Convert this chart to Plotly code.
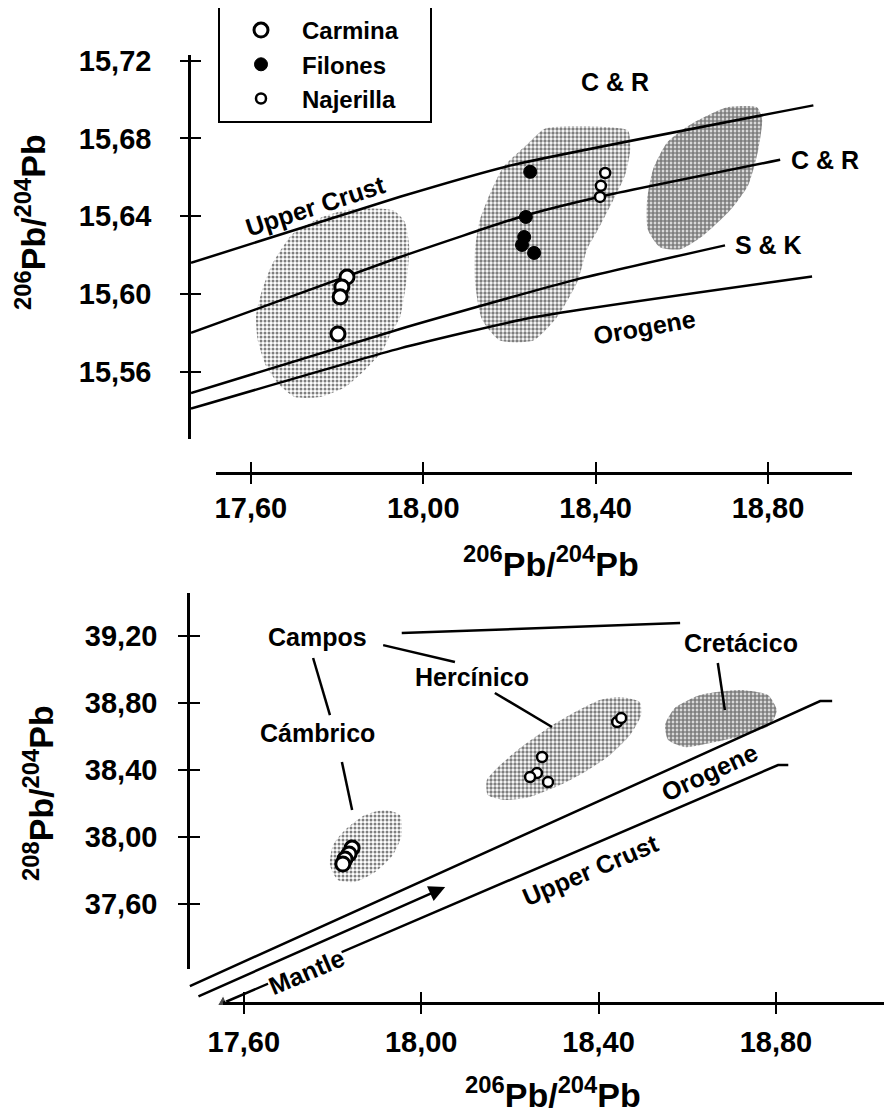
import plotly.graph_objects as go

# page has an 8px body margin; figure is sized so that page coordinates match the 892x1117 window
OFF = 8
W, H = 892 - OFF, 1117 - OFF

# ---------------- Top panel data ----------------
top_x_ticks = [17.60, 18.00, 18.40, 18.80]
top_x_labels = ["17,60", "18,00", "18,40", "18,80"]
top_y_ticks = [15.56, 15.60, 15.64, 15.68, 15.72]
top_y_labels = ["15,56", "15,60", "15,64", "15,68", "15,72"]

carmina_x = [17.823, 17.811, 17.807, 17.802]
carmina_y = [15.6087, 15.6036, 15.5985, 15.5794]
filones_x = [18.248, 18.238, 18.234, 18.229, 18.257]
filones_y = [15.6628, 15.6396, 15.6293, 15.6252, 15.6211]
najerilla_x = [18.422, 18.412, 18.410]
najerilla_y = [15.6622, 15.6556, 15.6499]

upper_crust_x = [17.461, 17.946, 18.201, 18.905]
upper_crust_y = [15.616, 15.650, 15.666, 15.697]
cr_x = [17.461, 17.946, 18.231, 18.410, 18.828]
cr_y = [15.580, 15.619, 15.640, 15.650, 15.669]
sk_x = [17.461, 17.946, 18.347, 18.700]
sk_y = [15.549, 15.582, 15.607, 15.625]
orogene_x = [17.461, 17.946, 18.255, 18.902]
orogene_y = [15.541, 15.572, 15.588, 15.609]

blobA_x = [17.869, 17.930, 17.957, 17.967, 17.964, 17.946, 17.923, 17.906, 17.865, 17.818, 17.760,
           17.702, 17.667, 17.635, 17.616, 17.612, 17.626, 17.651, 17.697, 17.760, 17.818]
blobA_y = [15.644, 15.643, 15.637, 15.625, 15.612, 15.588, 15.579, 15.571, 15.561, 15.552, 15.547,
           15.547, 15.553, 15.563, 15.576, 15.589, 15.602, 15.616, 15.631, 15.639, 15.643]
blobB_x = [18.282, 18.410, 18.475, 18.480, 18.468, 18.440, 18.405, 18.380, 18.357, 18.310, 18.255,
           18.178, 18.136, 18.120, 18.120, 18.131, 18.148, 18.185, 18.241]
blobB_y = [15.685, 15.686, 15.684, 15.674, 15.661, 15.648, 15.633, 15.623, 15.606, 15.588, 15.576,
           15.576, 15.587, 15.606, 15.623, 15.638, 15.648, 15.665, 15.677]
blobC_x = [18.619, 18.705, 18.774, 18.786, 18.777, 18.754, 18.712, 18.649, 18.596, 18.549, 18.521,
           18.519, 18.533, 18.566]
blobC_y = [15.687, 15.696, 15.696, 15.690, 15.674, 15.656, 15.643, 15.630, 15.623, 15.624, 15.633,
           15.648, 15.664, 15.678]

# ---------------- Bottom panel data ----------------
bot_x_ticks = [17.60, 18.00, 18.40, 18.80]
bot_x_labels = ["17,60", "18,00", "18,40", "18,80"]
bot_y_ticks = [37.60, 38.00, 38.40, 38.80, 39.20]
bot_y_labels = ["37,60", "38,00", "38,40", "38,80", "39,20"]

camb_pts_x = [17.844, 17.837, 17.828, 17.823]
camb_pts_y = [37.934, 37.899, 37.869, 37.839]
herc_pts_x = [18.2725, 18.261, 18.2455, 18.286, 18.442, 18.451]
herc_pts_y = [38.4776, 38.382, 38.358, 38.328, 38.687, 38.710]

b_orogene_x = [17.478, 18.900, 18.927]
b_orogene_y = [37.110, 38.812, 38.812]
b_mantle_x = [17.494, 18.054]
b_mantle_y = [37.045, 37.701]
b_crust_x = [17.553, 18.805, 18.828]
b_crust_y = [37.009, 38.430, 38.430]

camb_x = [17.918, 17.952, 17.956, 17.936, 17.896, 17.850, 17.812, 17.794, 17.801, 17.828, 17.873]
camb_y = [38.161, 38.131, 38.012, 37.893, 37.791, 37.731, 37.743, 37.833, 37.952, 38.042, 38.131]
herc_x = [18.448, 18.493, 18.496, 18.471, 18.426, 18.369, 18.313, 18.245, 18.189, 18.150, 18.148,
          18.178, 18.223, 18.286, 18.347, 18.403]
herc_y = [38.836, 38.806, 38.728, 38.609, 38.490, 38.388, 38.310, 38.239, 38.221, 38.251, 38.340,
          38.430, 38.531, 38.651, 38.746, 38.818]
cret_x = [18.629, 18.719, 18.782, 18.802, 18.787, 18.730, 18.663, 18.595, 18.557, 18.550, 18.572]
cret_y = [38.848, 38.878, 38.848, 38.758, 38.669, 38.609, 38.567, 38.537, 38.579, 38.669, 38.770]

# ---------------- helpers ----------------
def pxx(p):
    return (p - OFF) / W

def pxy(p):
    return 1 - (p - OFF) / H

FONT = "Liberation Sans, Arial, Helvetica, sans-serif"
tick_font = dict(family=FONT, size=29, color="black", weight="bold")
lab_font = dict(family=FONT, size=25, color="black", weight="bold")
leg_font = dict(family=FONT, size=24, color="black", weight="bold")
title_font = dict(family=FONT, size=34, color="black", weight="bold")

def closed(a):
    return list(a) + [a[0]]

fig = go.Figure()

def blob(xs, ys, xa, ya, solidity, fg="black"):
    fig.add_trace(go.Scatter(
        x=closed(xs), y=closed(ys), xaxis=xa, yaxis=ya, mode="lines",
        line=dict(width=0, shape="spline", smoothing=0.6), fill="toself",
        fillcolor="rgba(0,0,0,0)",
        fillpattern=dict(shape=".", fgcolor=fg, bgcolor="white", size=4, solidity=solidity),
        showlegend=False, hoverinfo="skip"))

def line(xs, ys, xa, ya, width=2.5):
    fig.add_trace(go.Scatter(
        x=xs, y=ys, xaxis=xa, yaxis=ya, mode="lines",
        line=dict(color="black", width=width, shape="spline", smoothing=0.5),
        showlegend=False, hoverinfo="skip"))

# top blobs
blob(blobA_x, blobA_y, "x", "y", 0.45)
blob(blobB_x, blobB_y, "x", "y", 0.55)
blob(blobC_x, blobC_y, "x", "y", 0.75)
# top curves
for xs, ys in [(upper_crust_x, upper_crust_y), (cr_x, cr_y), (sk_x, sk_y), (orogene_x, orogene_y)]:
    line(xs, ys, "x", "y")

# top points
fig.add_trace(go.Scatter(x=carmina_x, y=carmina_y, xaxis="x", yaxis="y", mode="markers",
                         name="Carmina&nbsp;&nbsp;&nbsp;&nbsp;",
                         marker=dict(symbol="circle", size=14, color="white", line=dict(color="black", width=3))))
fig.add_trace(go.Scatter(x=filones_x, y=filones_y, xaxis="x", yaxis="y", mode="markers", name="Filones",
                         marker=dict(symbol="circle", size=13, color="black", line=dict(color="black", width=1))))
fig.add_trace(go.Scatter(x=najerilla_x, y=najerilla_y, xaxis="x", yaxis="y", mode="markers", name="Najerilla",
                         marker=dict(symbol="circle", size=10, color="white", line=dict(color="black", width=2.5))))

# bottom blobs
blob(camb_x, camb_y, "x4", "y4", 0.45)
blob(herc_x, herc_y, "x4", "y4", 0.55)
blob(cret_x, cret_y, "x4", "y4", 0.75)
# bottom lines
fig.add_trace(go.Scatter(x=b_orogene_x, y=b_orogene_y, xaxis="x4", yaxis="y4", mode="lines",
                         line=dict(color="black", width=2.5), showlegend=False, hoverinfo="skip"))
fig.add_trace(go.Scatter(x=b_crust_x, y=b_crust_y, xaxis="x4", yaxis="y4", mode="lines+markers",
                         line=dict(color="black", width=2.5),
                         marker=dict(symbol="triangle-left", size=[12, 0, 0], angle=-23, color="black"),
                         showlegend=False, hoverinfo="skip"))
# bottom points
fig.add_trace(go.Scatter(x=camb_pts_x, y=camb_pts_y, xaxis="x4", yaxis="y4", mode="markers", showlegend=False,
                         marker=dict(symbol="circle", size=14, color="white", line=dict(color="black", width=3))))
fig.add_trace(go.Scatter(x=herc_pts_x, y=herc_pts_y, xaxis="x4", yaxis="y4", mode="markers", showlegend=False,
                         marker=dict(symbol="circle", size=10, color="white", line=dict(color="black", width=2.5))))

# dummy traces so that display-only axes are rendered
for xa, ya in [("x2", "y"), ("x3", "y"), ("x", "y2"), ("x5", "y5"), ("x6", "y5"), ("x5", "y6")]:
    fig.add_trace(go.Scatter(x=[None], y=[None], xaxis=xa, yaxis=ya, mode="markers",
                             showlegend=False, hoverinfo="skip"))

# labelled axes carry the inner half of each cross tick, overlays carry the outer half
def disp_axis(**kw):
    d = dict(showgrid=False, zeroline=False, showline=True, linecolor="black", linewidth=2.5,
             ticks="inside", ticklen=10, tickwidth=2, tickcolor="black", tickfont=tick_font,
             automargin=False, fixedrange=True)
    d.update(kw)
    return d

def tick_overlay(**kw):
    d = dict(showgrid=False, zeroline=False, showline=False, ticks="outside", ticklen=10, tickwidth=2,
             tickcolor="black", showticklabels=False, automargin=False, fixedrange=True)
    d.update(kw)
    return d

top_x_range = [17.519, 18.995]
top_y_range = [15.5254, 15.7229]
bot_x_range = [17.553, 19.046]
bot_y_range = [37.212, 39.457]

fig.update_layout(
    width=W, height=H,
    margin=dict(l=0, r=0, t=0, b=0, autoexpand=False),
    paper_bgcolor="white", plot_bgcolor="rgba(0,0,0,0)",
    xaxis=dict(domain=[pxx(191), pxx(875)], range=[17.461, 19.048], visible=False, anchor="y", fixedrange=True),
    yaxis=disp_axis(domain=[pxy(439), pxy(55)], range=top_y_range, anchor="x",
                    tickvals=top_y_ticks, ticktext=top_y_labels, ticklabelstandoff=31),
    yaxis2=tick_overlay(overlaying="y", anchor="x", side="left", range=top_y_range, tickvals=top_y_ticks),
    xaxis2=disp_axis(domain=[pxx(216), pxx(852)], range=top_x_range, anchor="free", position=pxy(473),
                     tickvals=top_x_ticks, ticktext=top_x_labels, ticklabelstandoff=8),
    xaxis3=tick_overlay(overlaying="x2", anchor="free", position=pxy(473), range=top_x_range,
                        tickvals=top_x_ticks),
    xaxis4=dict(domain=[pxx(185), pxx(892)], range=[17.467, 19.062], visible=False, anchor="y4", fixedrange=True),
    yaxis4=dict(domain=[pxy(1005), pxy(590)], range=[36.997, 39.475], visible=False, anchor="x4", fixedrange=True),
    yaxis5=disp_axis(domain=[pxy(969), pxy(593)], range=bot_y_range, anchor="free", position=pxx(188),
                     tickvals=bot_y_ticks, ticktext=bot_y_labels, ticklabelstandoff=24),
    yaxis6=tick_overlay(overlaying="y5", anchor="free", position=pxx(188), side="left", range=bot_y_range,
                        tickvals=bot_y_ticks),
    xaxis5=disp_axis(domain=[pxx(223), pxx(885)], range=bot_x_range, anchor="free", position=pxy(1003),
                     tickvals=bot_x_ticks, ticktext=bot_x_labels, ticklabelstandoff=12),
    xaxis6=tick_overlay(overlaying="x5", anchor="free", position=pxy(1003), range=bot_x_range,
                        tickvals=bot_x_ticks),
    legend=dict(x=pxx(218), y=pxy(6), xanchor="left", yanchor="top", bgcolor="white",
                bordercolor="black", borderwidth=2, font=leg_font, itemwidth=72),
    showlegend=True,
)

ann = []
C = dict(xanchor="center", yanchor="middle", showarrow=False)
# axis titles
ann.append(dict(text="<sup>206</sup>Pb/<sup>204</sup>Pb", xref="paper", yref="paper", x=pxx(30), y=pxy(222),
                textangle=-90, font=title_font, **C))
ann.append(dict(text="<sup>206</sup>Pb/<sup>204</sup>Pb", xref="paper", yref="paper", x=pxx(551), y=pxy(562),
                font=title_font, **C))
ann.append(dict(text="<sup>208</sup>Pb/<sup>204</sup>Pb", xref="paper", yref="paper", x=pxx(38), y=pxy(793),
                textangle=-90, font=title_font, **C))
ann.append(dict(text="<sup>206</sup>Pb/<sup>204</sup>Pb", xref="paper", yref="paper", x=pxx(553), y=pxy(1092),
                font=title_font, **C))

# top labels
for t, x, y, a in [("C & R", 18.445, 15.709, 0), ("C & R", 18.932, 15.669, 0), ("S & K", 18.800, 15.625, 0),
                   ("Orogene", 18.514, 15.583, -10), ("Upper Crust", 17.749, 15.645, -18)]:
    ann.append(dict(text=t, x=x, y=y, xref="x", yref="y", textangle=a, font=lab_font, **C))

# bottom labels
for t, x, y, a, bg in [("Campos", 17.767, 39.194, 0, None), ("Cámbrico", 17.767, 38.621, 0, None),
                       ("Hercínico", 18.114, 38.955, 0, None), ("Cretácico", 18.721, 39.158, 0, None),
                       ("Orogene", 18.651, 38.388, -25, None), ("Upper Crust", 18.381, 37.803, -23, None),
                       ("Mantle", 17.740, 37.194, -23, "white")]:
    d = dict(text=t, x=x, y=y, xref="x4", yref="y4", textangle=a, font=lab_font, **C)
    if bg:
        d["bgcolor"] = bg
        d["borderpad"] = 0
    ann.append(d)

# mantle arrow
ann.append(dict(x=b_mantle_x[1], y=b_mantle_y[1], ax=b_mantle_x[0], ay=b_mantle_y[0], xref="x4", yref="y4",
                axref="x4", ayref="y4", showarrow=True, arrowhead=2, arrowsize=1.3, arrowwidth=2.5,
                arrowcolor="black", text=""))
fig.update_layout(annotations=ann)

# leader lines (bottom)
shapes = []
for x0, y0, x1, y1 in [(17.956, 39.218, 18.584, 39.278), (17.914, 39.146, 18.076, 39.045),
                       (17.756, 39.069, 17.794, 38.728), (17.821, 38.448, 17.844, 38.161),
                       (18.166, 38.860, 18.295, 38.657), (18.669, 39.039, 18.685, 38.758)]:
    shapes.append(dict(type="line", xref="x4", yref="y4", x0=x0, y0=y0, x1=x1, y1=y1,
                       line=dict(color="black", width=2.5)))
fig.update_layout(shapes=shapes)

fig.write_html("out.html")
